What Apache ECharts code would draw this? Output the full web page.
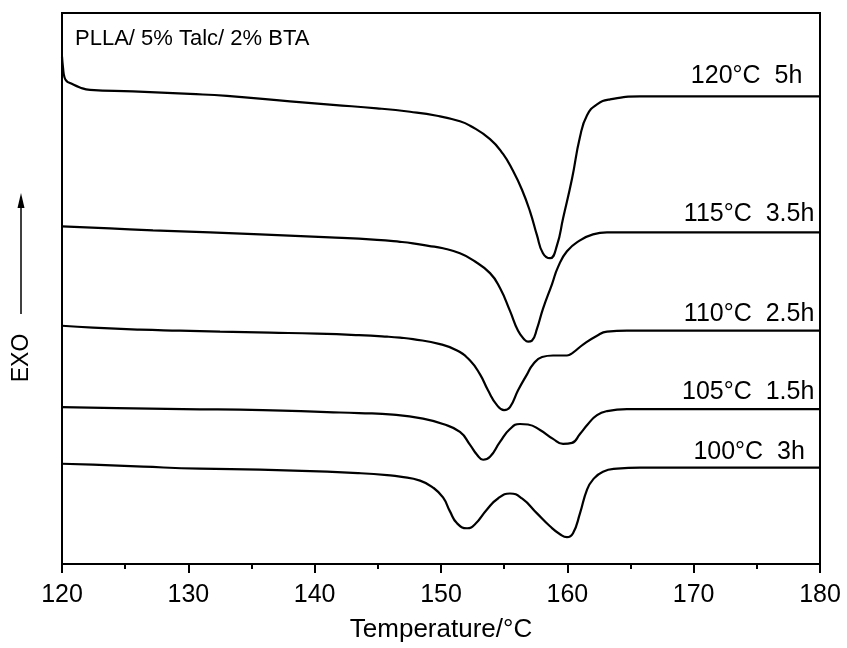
<!DOCTYPE html>
<html>
<head>
<meta charset="utf-8">
<script src="https://cdn.jsdelivr.net/npm/echarts@6/dist/echarts.min.js"></script>
<style>
  html, body { margin: 0; padding: 0; background: #fff; }
  #chart { width: 847px; height: 648px; }
</style>
</head>
<body>
<div id="chart"></div>
<script>
// DSC melting traces of PLLA/5% Talc/2% BTA after isothermal crystallisation.
// Each trace: [temperature (°C), heat flow (arbitrary units, stacked offset)]
const curve120 = [
  [120.00, 511], [120.08, 500], [120.20, 490], [120.40, 486], [120.63, 484.5],
  [121.42, 480], [122.22, 477.5], [125.62, 476], [130.13, 473.5], [133.06, 471.5],
  [138.05, 466], [141.45, 462.5], [144.93, 459], [147.55, 455.5], [149.68, 451.5],
  [151.50, 446], [152.30, 441.5], [153.88, 428], [154.91, 413], [155.70, 396],
  [156.41, 377], [157.05, 355], [157.60, 331], [158.07, 313], [158.63, 308],
  [159.18, 321], [159.66, 348], [160.37, 388], [161.00, 430], [161.56, 452],
  [162.35, 463], [163.38, 468], [165.75, 471], [180.00, 471]
];
const curve115 = [
  [120.00, 340], [123.80, 338], [127.20, 336], [131.72, 334], [135.67, 332],
  [141.21, 329], [144.93, 326.5], [146.76, 324.5], [147.78, 323], [149.00, 320.5],
  [150.16, 318], [151.50, 313], [152.53, 306], [153.88, 293], [154.67, 278],
  [155.46, 255], [156.10, 235], [156.65, 225.5], [156.89, 224], [157.20, 225],
  [157.60, 237], [158.07, 257], [158.79, 282], [159.26, 299], [159.97, 315],
  [161.00, 326], [162.03, 332], [163.14, 334], [180.00, 334]
];
const curve110 = [
  [120.00, 240], [122.45, 238], [126.17, 236], [129.34, 235], [132.51, 234],
  [136.46, 233], [140.19, 232], [143.50, 230.5], [145.73, 229], [146.76, 228],
  [147.78, 226.5], [149.92, 221.5], [151.27, 215], [152.30, 205], [153.09, 191],
  [153.72, 175], [154.43, 160], [154.99, 155], [155.46, 158], [156.10, 175],
  [156.81, 191], [157.28, 201], [158.00, 208.5], [158.87, 210], [159.97, 210],
  [160.45, 213], [161.24, 221], [162.35, 230], [163.14, 234], [164.72, 235],
  [180.00, 235]
];
const curve105 = [
  [120.00, 158], [124.35, 157], [129.58, 156], [135.91, 155], [140.98, 153],
  [143.50, 152], [146.20, 150.5], [148.58, 146.5], [150.16, 141], [151.50, 133],
  [152.30, 120], [152.85, 110], [153.33, 105], [153.88, 108], [154.67, 123],
  [155.46, 136], [156.25, 141], [156.89, 140.5], [157.84, 135], [158.87, 126],
  [159.66, 121], [160.37, 122], [161.00, 131], [161.64, 141], [162.35, 150],
  [163.14, 154], [164.72, 156], [180.00, 156]
];
const curve100 = [
  [120.00, 101], [122.45, 100], [126.41, 98], [130.92, 96], [135.67, 95],
  [140.98, 93], [143.50, 91.5], [145.73, 89.5], [146.76, 88], [148.34, 84],
  [149.37, 77], [150.16, 67], [150.71, 53], [151.27, 41], [152.06, 36],
  [152.69, 40], [153.64, 55], [154.51, 66], [155.46, 71], [156.41, 66],
  [157.60, 51], [158.63, 38], [159.42, 30], [159.97, 27], [160.45, 31],
  [161.00, 51], [161.56, 75], [162.03, 85], [162.82, 93], [163.93, 96],
  [165.75, 97], [180.00, 97]
];
const traceNames = ['120°C  5h', '115°C  3.5h', '110°C  2.5h', '105°C  1.5h', '100°C  3h'];
const traces = [curve120, curve115, curve110, curve105, curve100];
const xTicks = [120, 130, 140, 150, 160, 170, 180];
const sampleName = 'PLLA/ 5% Talc/ 2% BTA';

// label placement: right edge (°C) and vertical lift (px) above the flat tail
const labelRight = [178.6, 179.55, 179.55, 179.55, 178.8];
const labelLift = [-20, -18, -17, -17, -16];

const FONT = 'Liberation Sans, Arial, sans-serif';

const series = traces.map((data, i) => {
  const tail = data[data.length - 1][1];
  return {
    type: 'line',
    name: traceNames[i],
    data: data,
    showSymbol: false,
    smooth: 0.5,
    lineStyle: { color: '#000', width: 2.2 },
    silent: true,
    markPoint: {
      symbol: 'circle',
      symbolSize: 0,
      silent: true,
      data: [{ coord: [labelRight[i], tail] }],
      label: {
        show: true,
        position: 'left',
        distance: 0,
        offset: [0, labelLift[i]],
        formatter: traceNames[i],
        color: '#000',
        fontFamily: FONT,
        fontSize: 25
      }
    }
  };
});

const chart = echarts.init(document.getElementById('chart'), null, { renderer: 'canvas' });
chart.setOption({
  animation: false,
  backgroundColor: '#fff',
  title: {
    text: sampleName,
    left: 70,
    top: 23,
    textStyle: { fontFamily: FONT, fontSize: 22, fontWeight: 'normal', color: '#000' }
  },
  grid: {
    left: 62, right: 27, top: 13, bottom: 80,
    show: true, borderColor: '#000', borderWidth: 2, backgroundColor: 'transparent'
  },
  xAxis: {
    type: 'value',
    min: xTicks[0],
    max: xTicks[xTicks.length - 1],
    interval: 10,
    name: 'Temperature/°C',
    nameLocation: 'middle',
    nameGap: 53,
    nameTextStyle: { fontFamily: FONT, fontSize: 26, color: '#000' },
    axisLine: { show: true, lineStyle: { color: '#000', width: 2 } },
    axisTick: { show: true, inside: false, length: 9, lineStyle: { color: '#000', width: 2 } },
    minorTick: { show: true, splitNumber: 2, length: 5, lineStyle: { color: '#000', width: 2 } },
    axisLabel: { fontFamily: FONT, fontSize: 25, color: '#000', margin: 19 },
    splitLine: { show: false }
  },
  yAxis: {
    type: 'value',
    min: 0,
    max: 555,
    axisLine: { show: true, lineStyle: { color: '#000', width: 2 } },
    axisTick: { show: false },
    axisLabel: { show: false },
    splitLine: { show: false }
  },
  graphic: [
    {
      type: 'text',
      x: 22, y: 358,
      rotation: Math.PI / 2,
      style: {
        text: 'EXO', fill: '#000', font: '23px ' + FONT,
        align: 'center', verticalAlign: 'middle'
      }
    },
    {
      type: 'line',
      shape: { x1: 21, y1: 314, x2: 21, y2: 204 },
      style: { stroke: '#000', lineWidth: 1.5 }
    },
    {
      type: 'polygon',
      shape: { points: [[21, 193], [17.5, 208], [24.5, 208]] },
      style: { fill: '#000' }
    }
  ],
  series: series
});
</script>
</body>
</html>
